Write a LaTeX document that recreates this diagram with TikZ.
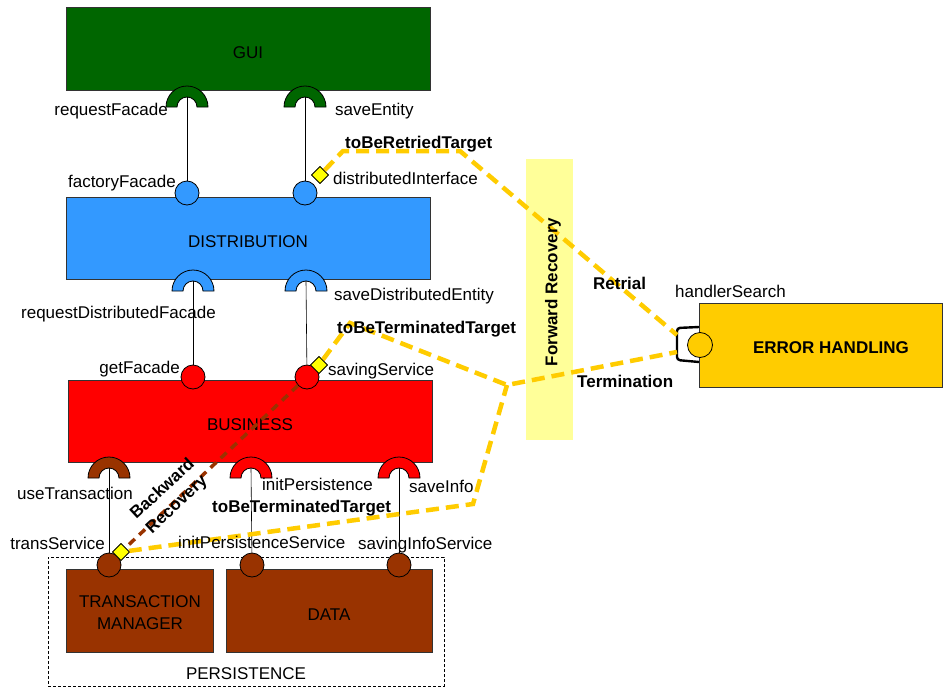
\documentclass[tikz,border=0pt]{standalone}
\usepackage{fontspec}
\setmainfont{Liberation Sans}
\usetikzlibrary{shapes.geometric}
\definecolor{guigreen}{HTML}{006600}
\definecolor{distblue}{HTML}{3399FF}
\definecolor{busred}{HTML}{FF0000}
\definecolor{perbrown}{HTML}{993300}
\definecolor{errgold}{HTML}{FFCC00}
\definecolor{bandyellow}{HTML}{FFFF99}
\definecolor{flagyellow}{HTML}{FFFF00}
\begin{document}
\begin{tikzpicture}[x=1pt,y=-1pt,
  font=\fontsize{17}{20}\selectfont,
  comp/.style={draw=black!80, line width=0.8pt, inner sep=0pt},
  capc/.style={text height=19pt, text depth=0pt},
  ball/.style={circle, draw=black, line width=0.8pt, minimum size=24pt, inner sep=0pt},
  lbl/.style={inner sep=0pt},
  blbl/.style={inner sep=0pt, font=\fontsize{17}{20}\selectfont\bfseries},
  wire/.style={draw=black, line width=0.6pt},
  recov/.style={draw=errgold, line width=4.5pt, dash pattern=on 13pt off 7pt},
  backrec/.style={draw=perbrown, line width=3.5pt, dash pattern=on 8pt off 6pt},
  flag/.style={diamond, draw=black, fill=flagyellow, line width=0.7pt, minimum width=17pt, minimum height=17pt, inner sep=0pt},
  pics/sock/.style={code={\draw[line width=0.8pt, fill=#1] (-21,0) arc[start angle=180,end angle=360,radius=21] -- (10,0) arc[start angle=360,end angle=180,radius=10] -- cycle;}}
]
\useasboundingbox (0,0) rectangle (943,688);

% Forward recovery band
\node[fill=bandyellow, minimum width=47pt, minimum height=281pt, inner sep=0pt] (band) at (549.5,299.5) {};

% components
\node[comp, capc, fill=guigreen, minimum width=364pt, minimum height=83pt] (gui) at (248,48.5) {GUI};
\node[comp, capc, fill=distblue, minimum width=364pt, minimum height=82pt] (dist) at (248,238) {DISTRIBUTION};
\node[comp, capc, fill=busred, minimum width=364pt, minimum height=82pt] (bus) at (250,421) {BUSINESS};
\node[draw=black, line width=0.9pt, dash pattern=on 3pt off 2pt, minimum width=396pt, minimum height=129pt] (pers) at (246,621.5) {};
\node[lbl] (perslbl) at (246,674) {PERSISTENCE};
\node[comp, fill=perbrown, minimum width=147pt, minimum height=83pt] (tm) at (139.5,610.5) {};
\node[lbl, align=center, font=\fontsize{17}{22}\selectfont] (tmlbl) at (140,613) {TRANSACTION\\MANAGER};
\node[comp, capc, fill=perbrown, minimum width=206pt, minimum height=83pt] (data) at (329,610.5) {DATA};
\node[comp, fill=errgold, minimum width=243pt, minimum height=84pt] (err) at (820.5,345) {};
\node[blbl] (errlbl) at (831,348) {ERROR HANDLING};

% sockets (required interfaces)
\pic at (187,107) {sock=guigreen};
\pic at (305,107) {sock=guigreen};
\pic at (193,291) {sock=distblue};
\pic at (306,291) {sock=distblue};
\pic at (109,478) {sock=perbrown};
\pic at (251,478) {sock=busred};
\pic at (399,478) {sock=busred};
\coordinate (s1) at (187,97);
\coordinate (s2) at (305,97);
\coordinate (s3) at (193,281);
\coordinate (s4) at (306,281);
\coordinate (s5) at (109,468);
\coordinate (s6) at (251,468);
\coordinate (s7) at (399,468);

% balls (provided interfaces)
\node[ball, fill=distblue] (b1) at (187,193) {};
\node[ball, fill=distblue] (b2) at (305,193) {};
\node[ball, fill=busred] (b3) at (193,377) {};
\node[ball, fill=busred] (b4) at (307,377) {};
\node[ball, fill=perbrown] (b5) at (109,565) {};
\node[ball, fill=perbrown] (b6) at (252,565) {};
\node[ball, fill=perbrown] (b7) at (399,565) {};
\node[ball, fill=errgold, minimum size=25pt] (b8) at (700,345) {};

% wires
\draw[wire] (s1) -- (b1);
\draw[wire] (s2) -- (b2);
\draw[wire] (s3) -- (b3);
\draw[wire] (s4) -- (b4);
\draw[wire] (s5) -- (b5);
\draw[wire] (s6) -- (b6);
\draw[wire] (s7) -- (b7);

% handlerSearch socket
\draw[line width=2.4pt, rounded corners=3pt] (699,327) -- (677,328) -- (677,360) -- (699,362);
\coordinate (hsTop) at (677,335);
\coordinate (hsBot) at (677,352);

% flags
\node[flag] (fd) at (320,175) {};
\node[flag] (fs) at (319,365) {};
\node[flag] (ft) at (121,552) {};

% recovery paths
\draw[backrec] (b4) -- (ft);
\coordinate (r1) at (343,151);
\coordinate (r2) at (460,151);
\coordinate (t1) at (350,323);
\coordinate (tj) at (507,385);
\coordinate (t2) at (473,504);
\draw[recov] (fd) -- (r1) -- (r2) -- (hsTop);
\draw[recov] (fs) -- (t1) -- (tj) -- (hsBot);
\draw[recov] (ft) -- (t2) -- (tj);
\node[flag] at (fd) {};
\node[flag] at (fs) {};
\node[flag] at (ft) {};

% band label
\node[blbl, rotate=90] (fwd) at (553,292) {Forward Recovery};
\node[blbl, rotate=43, align=center, font=\fontsize{17}{21}\selectfont\bfseries] (bwd) at (170,497) {Backward\\Recovery};

% labels
\node[lbl, anchor=base east] at (168,115) {requestFacade};
\node[lbl, anchor=base west] at (335,115) {saveEntity};
\node[blbl, anchor=base west] at (345,148) {toBeRetriedTarget};
\node[lbl, anchor=base east] at (176,187) {factoryFacade};
\node[lbl, anchor=base west] at (333,184) {distributedInterface};
\node[lbl, anchor=base east] at (216,318) {requestDistributedFacade};
\node[lbl, anchor=base west] at (334,300) {saveDistributedEntity};
\node[blbl, anchor=base west] at (337,333) {toBeTerminatedTarget};
\node[lbl, anchor=base east] at (180,373) {getFacade};
\node[lbl, anchor=base west] at (328,375) {savingService};
\node[lbl, anchor=base east] at (133,499) {useTransaction};
\node[lbl, anchor=base west] at (262,490) {initPersistence};
\node[lbl, anchor=base west] at (409,492) {saveInfo};
\node[blbl, anchor=base west] at (212,512) {toBeTerminatedTarget};
\node[lbl, anchor=base east] at (105,549) {transService};
\node[lbl, anchor=base west] at (178,548) {initPersistenceService};
\node[lbl, anchor=base west] at (358,549) {savingInfoService};
\node[blbl, anchor=base west] at (593,289) {Retrial};
\node[blbl, anchor=base west] at (577,387) {Termination};
\node[lbl, anchor=base west] at (675,297) {handlerSearch};
\end{tikzpicture}
\end{document}
